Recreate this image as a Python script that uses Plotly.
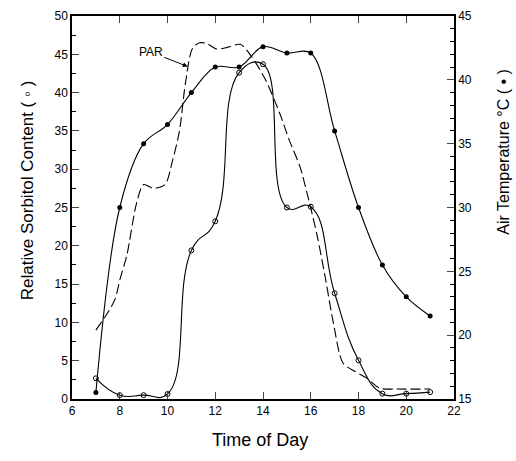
import plotly.graph_objects as go

hours = [7, 8, 9, 10, 11, 12, 13, 14, 15, 16, 17, 18, 19, 20, 21]
sorbitol = [2.7, 0.5, 0.5, 0.65, 19.4, 23.2, 42.6, 43.7, 25.0, 25.1, 13.8, 5.05, 0.7, 0.7, 0.9]
air_temp = [15.5, 30.0, 35.0, 36.5, 39.0, 41.0, 41.0, 42.6, 42.1, 42.1, 36.0, 30.0, 25.5, 23.0, 21.5]

par_hours = [7.0, 7.4, 7.8, 8.0, 8.3, 8.7, 9.0, 9.4, 9.9, 10.2, 10.5, 10.75, 11.05, 11.35, 11.65,
             12.05, 12.5, 13.05, 13.5, 14.1, 14.7, 15.1, 15.55, 15.9, 16.25, 16.6, 16.95, 17.35,
             17.85, 18.35, 18.9, 19.6, 21.0]
par_values = [9.0, 10.8, 13.0, 15.5, 18.8, 25.5, 28.0, 27.5, 28.0, 31.0, 35.0, 41.2, 45.8, 46.5, 46.4,
              45.7, 45.9, 46.3, 44.8, 41.7, 37.3, 33.8, 30.3, 26.2, 21.6, 16.0, 9.9, 4.7,
              3.6, 2.7, 1.4, 1.3, 1.3]

x_ticks = [6, 8, 10, 12, 14, 16, 18, 20, 22]
left_ticks = [0, 5, 10, 15, 20, 25, 30, 35, 40, 45, 50]
right_ticks = [15, 20, 25, 30, 35, 40, 45]

FONT = "Liberation Sans, Arial, sans-serif"

fig = go.Figure()

fig.add_trace(go.Scatter(
    x=par_hours, y=par_values, mode="lines",
    line=dict(color="black", width=1.1, dash="10px,4px", shape="spline", smoothing=0.8),
    yaxis="y", showlegend=False, hoverinfo="skip"))

fig.add_trace(go.Scatter(
    x=hours, y=sorbitol, mode="lines+markers",
    line=dict(color="black", width=1.1, shape="spline", smoothing=1.3),
    marker=dict(symbol="circle-open", size=5, color="black", line=dict(width=1)),
    yaxis="y", showlegend=False))

fig.add_trace(go.Scatter(
    x=hours, y=air_temp, mode="lines+markers",
    line=dict(color="black", width=1.1, shape="spline", smoothing=1.0),
    marker=dict(symbol="circle", size=5, color="black"),
    yaxis="y2", showlegend=False))

fig.add_annotation(
    x=10.85, y=43.4, xref="x", yref="y",
    ax=9.3, ay=45.3, axref="x", ayref="y",
    text="PAR", showarrow=True, arrowhead=2, arrowsize=1, arrowwidth=1,
    arrowcolor="black", font=dict(family=FONT, size=12, color="black"))

# axis titles
fig.add_annotation(x=-0.118, y=0.545, xref="paper", yref="paper", text="Relative Sorbitol Content ( ◦ )",
                   textangle=-90, showarrow=False, xanchor="center", yanchor="middle",
                   font=dict(family=FONT, size=17, color="black"))
fig.add_annotation(x=1.13, y=0.645, xref="paper", yref="paper", text="Air Temperature °C ( • )",
                   textangle=-90, showarrow=False, xanchor="center", yanchor="middle",
                   font=dict(family=FONT, size=16, color="black"))
fig.add_annotation(x=0.492, y=-0.107, xref="paper", yref="paper", text="Time of Day",
                   showarrow=False, xanchor="center", yanchor="middle",
                   font=dict(family=FONT, size=18, color="black"))

fig.update_layout(
    width=516, height=461,
    margin=dict(l=72, r=62, t=16, b=62, autoexpand=False),
    paper_bgcolor="white", plot_bgcolor="white",
    font=dict(family=FONT, size=12, color="black"),
    xaxis=dict(
        range=[6, 22], tickvals=x_ticks, ticks="inside", ticklen=7, tickwidth=1,
        showline=True, linecolor="black", linewidth=1.5, mirror="ticks",
        showgrid=False, zeroline=False, automargin=False),
    yaxis=dict(
        range=[0, 50], tickvals=left_ticks, ticks="inside", ticklen=7, tickwidth=1,
        showline=True, linecolor="black", linewidth=1.5,
        minor=dict(dtick=2.5, ticks="inside", ticklen=4, tickwidth=1, tickcolor="black"),
        showgrid=False, zeroline=False, automargin=False),
    yaxis2=dict(
        range=[15, 45], tickvals=right_ticks, ticks="inside", ticklen=7, tickwidth=1,
        overlaying="y", side="right",
        showline=True, linecolor="black", linewidth=1.5,
        minor=dict(dtick=1, ticks="inside", ticklen=4, tickwidth=1, tickcolor="black"),
        showgrid=False, zeroline=False, automargin=False),
)

fig.write_html(
    "out.html",
    config={"displayModeBar": False},
    post_script="document.body.style.margin='0';document.body.style.overflow='hidden';",
)
